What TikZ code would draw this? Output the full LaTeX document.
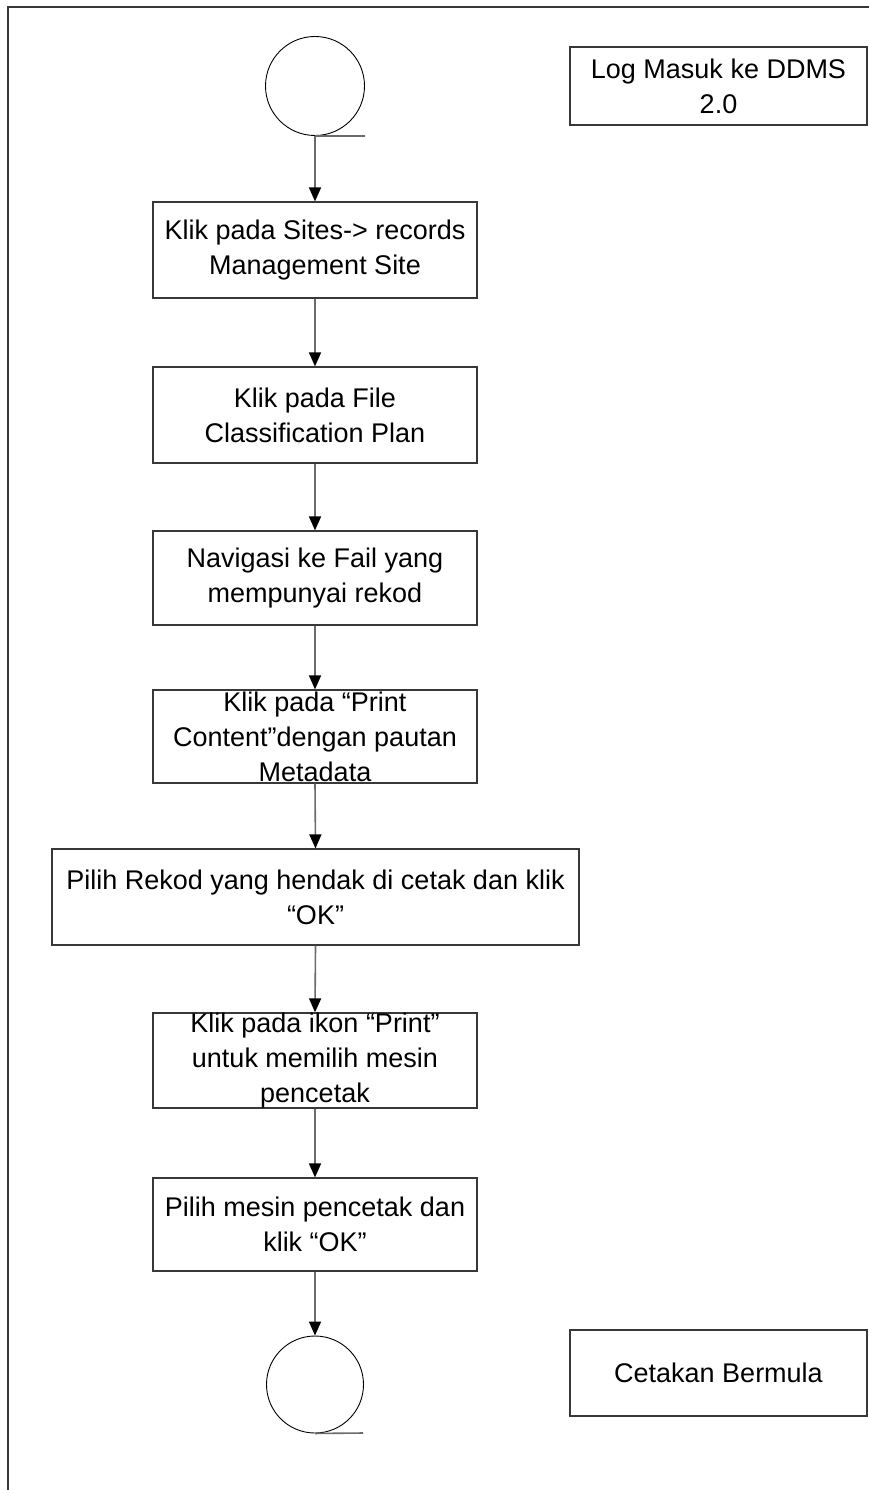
\documentclass[tikz,border=0pt]{standalone}
\usepackage{fontspec}
\setmainfont{Liberation Sans}
\usetikzlibrary{arrows.meta,positioning}
\definecolor{flowgray}{gray}{0.42}
\definecolor{edgegray}{gray}{0.22}

\begin{document}
\begin{tikzpicture}[x=1pt,y=-1pt,font=\fontsize{27}{35}\selectfont,
  stepbox/.style={draw=edgegray,line width=1.2pt,inner sep=0pt,align=center,minimum width=324pt},
  termnode/.style={draw=black,circle,line width=0.9pt,minimum size=99pt,inner sep=0pt},
  flow/.style={draw=flowgray,line width=1.6pt,-{Triangle[width=12pt,length=14pt,color=black]}}]
  \useasboundingbox (0,0) rectangle (869,1490);
  % page frame
  \draw[edgegray,line width=1.6pt] (869,7)--(8,7)--(8,1490);
  % start and end
  \node[termnode] (start) at (315,86) {};
  \coordinate (starttail) at (365,136);
  \draw[flowgray,line width=1.6pt] (start.south)--(starttail);
  \node[termnode,minimum size=97pt] (end) at (315,1384.5) {};
  \coordinate (endtail) at (363,1433);
  \draw[flowgray,line width=1.6pt] (end.south)--(endtail);
  % side notes
  \node[stepbox,minimum width=297pt,minimum height=78pt] (login) at (718.5,86) {Log Masuk ke DDMS\\2.0};
  \node[stepbox,minimum width=297pt,minimum height=86pt] (done) at (718.5,1373) {Cetakan Bermula};
  % steps
  \node[stepbox,minimum height=96pt] (sites) at (315,250) {Klik pada Sites-> records\\Management Site};
  \node[stepbox,minimum height=96pt] (plan) at (315,415) {Klik pada File\\Classification Plan};
  \node[stepbox,minimum height=94pt] (nav) at (315,578) {Navigasi ke Fail yang\\mempunyai rekod};
  \node[stepbox,minimum height=93pt] (content) at (315,736.5) {Klik pada “Print\\Content”dengan pautan\\Metadata};
  \node[stepbox,minimum width=527pt,minimum height=96pt] (pick) at (315.5,897) {Pilih Rekod yang hendak di cetak dan klik\\“OK”};
  \node[stepbox,minimum height=95pt] (icon) at (315,1060.5) {Klik pada ikon “Print”\\untuk memilih mesin\\pencetak};
  \node[stepbox,minimum height=93pt] (printer) at (315,1224.5) {Pilih mesin pencetak dan\\klik “OK”};
  % connectors
  \draw[flow] (start.south)--(sites.north);
  \draw[flow] (sites.south)--(plan.north);
  \draw[flow] (plan.south)--(nav.north);
  \draw[flow] (nav.south)--(content.north);
  \draw[flow] (content.south)--(pick.north);
  \draw[flow] (pick.south)--(icon.north);
  \draw[flow] (icon.south)--(printer.north);
  \draw[flow] (printer.south)--(end.north);
\end{tikzpicture}
\end{document}
